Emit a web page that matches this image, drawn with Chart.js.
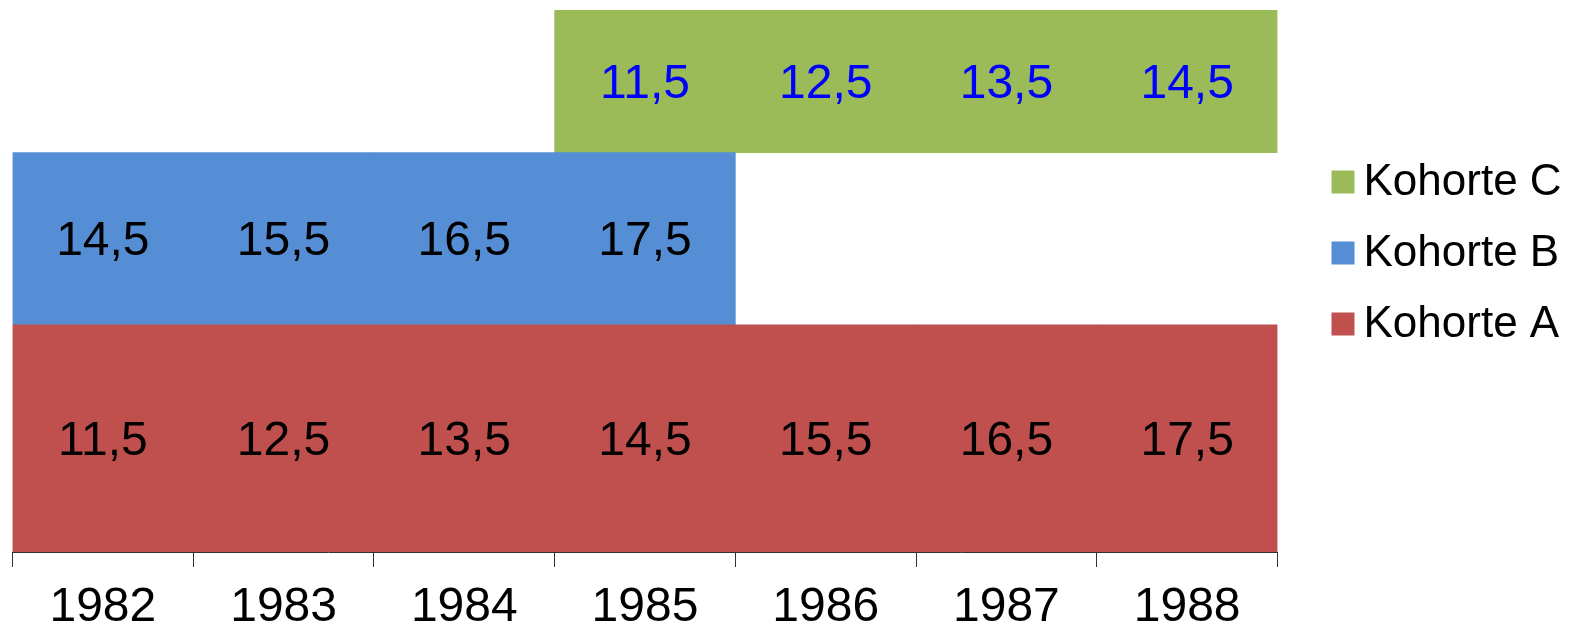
<!DOCTYPE html>
<html>
<head>
<meta charset="utf-8">
<script src="https://cdn.jsdelivr.net/npm/chart.js@4"></script>
<style>
  html, body { margin: 0; padding: 0; background: #fff; }
  #wrap { width: 1574px; height: 628px; }
</style>
</head>
<body>
<div id="wrap"><canvas id="myChart"></canvas></div>
<script>
const years = ["1982", "1983", "1984", "1985", "1986", "1987", "1988"];

// floating bars: [bottom, top] on a 0..100 scale
const kohorteA = [[0, 41.9], [0, 41.9], [0, 41.9], [0, 41.9], [0, 41.9], [0, 41.9], [0, 41.9]];
const kohorteB = [[41.9, 73.7], [41.9, 73.7], [41.9, 73.7], [41.9, 73.7], null, null, null];
const kohorteC = [null, null, null, [73.7, 100], [73.7, 100], [73.7, 100], [73.7, 100]];

// numbers written inside the bars
const textA = ["11,5", "12,5", "13,5", "14,5", "15,5", "16,5", "17,5"];
const textB = ["14,5", "15,5", "16,5", "17,5", null, null, null];
const textC = [null, null, null, "11,5", "12,5", "13,5", "14,5"];

const FONT = "'Liberation Sans', Arial, sans-serif";

const barLabels = {
    id: "barLabels",
    afterDatasetsDraw(chart) {
        const ctx = chart.ctx;
        ctx.save();
        ctx.font = "48px " + FONT;
        ctx.textAlign = "center";
        ctx.textBaseline = "middle";
        chart.data.datasets.forEach((ds, i) => {
            const meta = chart.getDatasetMeta(i);
            meta.data.forEach((bar, j) => {
                const t = ds.texts[j];
                if (!t) return;
                ctx.fillStyle = ds.textColor;
                ctx.fillText(t, bar.x, (bar.y + bar.base) / 2 + 3);
            });
        });
        ctx.restore();
    },
};

// legend drawn by hand so the gap between box and text is small
const sideLegend = {
    id: "sideLegend",
    afterDraw(chart) {
        const ctx = chart.ctx;
        const x = chart.chartArea.right + 54;
        ctx.save();
        ctx.font = "44px " + FONT;
        ctx.textBaseline = "middle";
        ctx.textAlign = "left";
        const order = [2, 1, 0];
        order.forEach((di, k) => {
            const ds = chart.data.datasets[di];
            const cy = 182 + k * 71;
            ctx.fillStyle = ds.backgroundColor;
            ctx.fillRect(x, cy - 11.5, 23, 23);
            ctx.fillStyle = "#000";
            ctx.fillText(ds.label, x + 32, cy + 1);
        });
        ctx.restore();
    },
};

const config = {
    type: "bar",
    data: {
        labels: years,
        datasets: [
            {
                label: "Kohorte A",
                data: kohorteA,
                texts: textA,
                textColor: "#000000",
                backgroundColor: "#C0504D",
            },
            {
                label: "Kohorte B",
                data: kohorteB,
                texts: textB,
                textColor: "#000000",
                backgroundColor: "#558ED5",
            },
            {
                label: "Kohorte C",
                data: kohorteC,
                texts: textC,
                textColor: "#0000FF",
                backgroundColor: "#9BBB59",
            },
        ],
    },
    options: {
        responsive: true,
        maintainAspectRatio: false,
        animation: false,
        layout: {
            padding: { top: 10, left: 12.5, right: 296.5, bottom: 0 },
        },
        datasets: {
            bar: {
                grouped: false,
                barPercentage: 1,
                categoryPercentage: 1,
                borderWidth: 0,
            },
        },
        plugins: {
            legend: { display: false },
            tooltip: { enabled: false },
        },
        scales: {
            x: {
                grid: {
                    offset: true,
                    drawOnChartArea: false,
                    drawTicks: true,
                    tickLength: 15,
                    tickColor: "#333333",
                    tickWidth: 1,
                },
                border: { color: "#333333", width: 1 },
                ticks: {
                    color: "#000000",
                    font: { family: FONT, size: 48, lineHeight: 1.2 },
                    padding: 12,
                    maxRotation: 0,
                    autoSkip: false,
                },
                afterFit(scale) {
                    scale.height = 76;
                },
            },
            y: {
                display: false,
                min: 0,
                max: 100,
            },
        },
    },
    plugins: [barLabels, sideLegend],
};

var myChart = new Chart(document.getElementById("myChart"), config);
</script>
</body>
</html>
